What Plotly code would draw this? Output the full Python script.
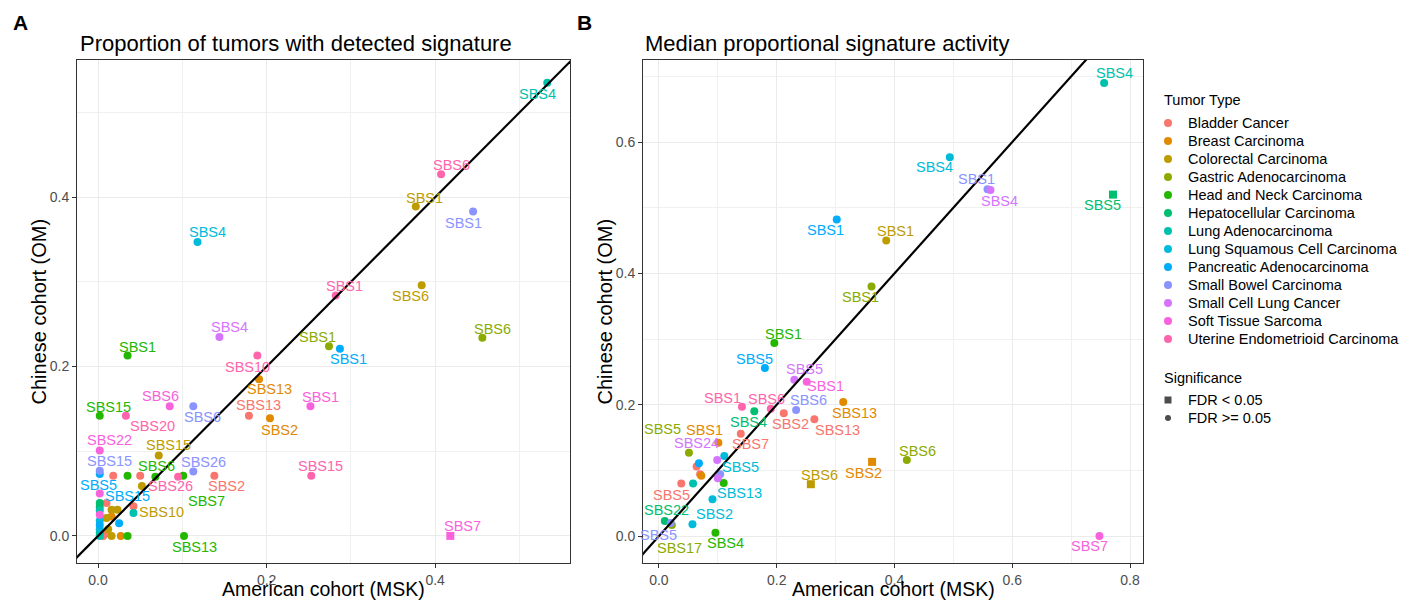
import plotly.graph_objects as go

# ---------------- data ----------------
TUMOR_KEYS = ["BL", "BR", "CO", "GA", "HN", "HC", "LA", "LS", "PA", "SB", "SC", "ST", "UT"]
TUMOR_NAMES = ["Bladder Cancer", "Breast Carcinoma", "Colorectal Carcinoma", "Gastric Adenocarcinoma",
               "Head and Neck Carcinoma", "Hepatocellular Carcinoma", "Lung Adenocarcinoma",
               "Lung Squamous Cell Carcinoma", "Pancreatic Adenocarcinoma", "Small Bowel Carcinoma",
               "Small Cell Lung Cancer", "Soft Tissue Sarcoma", "Uterine Endometrioid Carcinoma"]
TUMOR_COLORS = ["#F8766D", "#E18A00", "#BE9C00", "#8CAB00", "#24B700", "#00BE70", "#00C1AB",
                "#00BBDA", "#00ACFC", "#8B93FF", "#D575FE", "#F962DD", "#FF65AC"]
SIG_NAMES = ["FDR < 0.05", "FDR >= 0.05"]

# Panel A: proportion of tumors with detected signature
A_type = ["LA", "UT", "CO", "SB", "LS", "UT", "CO", "GA", "SC", "HN", "GA", "PA", "UT", "BR", "BL", "BR",
          "ST", "SB", "UT", "SB", "BL", "HN", "HN", "UT", "HN", "UT", "ST", "ST", "CO", "SB", "PA", "PA",
          "CO", "HN", "ST",
          "BL", "BL", "HN", "CO", "ST", "HC", "HC", "LA", "BL", "CO", "BL", "LA", "ST", "CO", "BR", "LS",
          "PA", "CO", "BL", "HC", "LA", "CO", "BR", "HN", "BL", "LS"]
A_label = ["SBS4", "SBS6", "SBS1", "SBS1", "SBS4", "SBS1", "SBS6", "SBS6", "SBS4", "SBS1", "SBS1", "SBS1",
           "SBS10", "SBS13", "SBS13", "SBS2", "SBS1", "SBS6", "SBS15", "SBS26", "SBS2", "SBS7", "SBS6",
           "SBS26", "SBS15", "SBS20", "SBS6", "SBS22", "SBS15", "SBS15", "SBS5", "SBS15", "SBS10", "SBS13",
           "SBS7"] + [""] * 26
A_msk = [0.533, 0.407, 0.377, 0.445, 0.118, 0.282, 0.384, 0.456, 0.144, 0.035, 0.274, 0.287, 0.189, 0.191,
         0.179, 0.204, 0.252, 0.113, 0.253, 0.113, 0.138, 0.101, 0.068, 0.095, 0.002, 0.033, 0.085, 0.002,
         0.072, 0.002, 0.002, 0.025, 0.023, 0.102, 0.418,
         0.018, 0.050, 0.035, 0.052, 0.002, 0.002, 0.002, 0.002, 0.010, 0.016, 0.042, 0.042, 0.002, 0.010,
         0.016, 0.002, 0.002, 0.012, 0.010, 0.002, 0.002, 0.016, 0.027, 0.035, 0.006, 0.002]
A_om = [0.535, 0.427, 0.389, 0.383, 0.347, 0.284, 0.296, 0.234, 0.235, 0.213, 0.224, 0.221, 0.213, 0.185,
        0.142, 0.139, 0.153, 0.153, 0.071, 0.076, 0.071, 0.071, 0.070, 0.070, 0.142, 0.142, 0.153, 0.101,
        0.095, 0.077, 0.073, 0.015, 0.031, 0.000, 0.000,
        0.071, 0.071, 0.071, 0.059, 0.050, 0.039, 0.034, 0.030, 0.039, 0.031, 0.035, 0.027, 0.025, 0.021,
        0.023, 0.018, 0.013, 0.008, 0.003, 0.004, 0.000, 0.000, 0.000, 0.000, 0.000, 0.008]
A_fdr = ["FDR >= 0.05"] * 34 + ["FDR < 0.05"] + ["FDR >= 0.05"] * 26

# Panel B: median proportional signature activity
B_type = ["LA", "HC", "LS", "SB", "SC", "PA", "CO", "GA", "HN", "PA", "SC", "ST", "UT", "HC", "UT", "BL",
          "SB", "BR", "BL", "BL", "BR", "LS", "SC", "GA", "CO", "BR", "GA", "ST", "LS", "LS", "BL", "HC",
          "SB", "GA", "HN",
          "PA", "BL", "BL", "BR", "LA", "SB", "SC", "HN"]
B_label = ["SBS4", "SBS5", "SBS4", "SBS1", "SBS4", "SBS1", "SBS1", "SBS1", "SBS1", "SBS5", "SBS5", "SBS1",
           "SBS1", "SBS4", "SBS6", "SBS2", "SBS6", "SBS13", "SBS13", "SBS7", "SBS1", "SBS5", "SBS24", "SBS5",
           "SBS6", "SBS2", "SBS6", "SBS7", "SBS13", "SBS2", "SBS5", "SBS22", "SBS5", "SBS17", "SBS4"] + [""] * 8
B_msk = [0.756, 0.771, 0.494, 0.558, 0.563, 0.302, 0.386, 0.361, 0.196, 0.180, 0.230, 0.251, 0.141, 0.162,
         0.190, 0.212, 0.233, 0.313, 0.264, 0.139, 0.101, 0.111, 0.099, 0.051, 0.258, 0.362, 0.421, 0.748,
         0.091, 0.057, 0.038, 0.010, 0.020, 0.022, 0.096,
         0.068, 0.064, 0.070, 0.072, 0.058, 0.104, 0.100, 0.110]
B_om = [0.690, 0.520, 0.577, 0.528, 0.527, 0.482, 0.450, 0.380, 0.294, 0.256, 0.238, 0.235, 0.197, 0.190,
        0.194, 0.187, 0.192, 0.204, 0.178, 0.156, 0.142, 0.122, 0.116, 0.127, 0.079, 0.113, 0.116, 0.000,
        0.056, 0.018, 0.080, 0.023, 0.020, 0.017, 0.005,
        0.111, 0.106, 0.094, 0.092, 0.080, 0.094, 0.088, 0.081]
B_fdr = ["FDR >= 0.05", "FDR < 0.05"] + ["FDR >= 0.05"] * 22 + ["FDR < 0.05", "FDR < 0.05"] + \
        ["FDR >= 0.05"] * 17

X_TITLE = "American cohort (MSK)"
Y_TITLE = "Chinese cohort (OM)"

# label placement (pixel offsets from the point, like ggrepel): (dx right, dy down)
A_label_off = [(-10, 11), (10, -9), (9, -9), (-10, 11), (10, -10), (9, -9), (-11, 11), (10, -9), (10, -10),
               (10, -9), (-11, -9), (9, 10), (-10, 11), (10, 10), (10, -11), (10, 12), (10, -9), (9, 11),
               (9, -10), (10, -10), (12, 10), (23, 25), (1, -11), (-8, 9), (9, -9), (27, 10), (-9, -10),
               (10, -10), (10, -10), (10, -10), (-1, 11), (8, -27), (44, 2), (10, 11), (12, -10)]
B_label_off = [(10, -10), (-10, 10), (-15, 10), (-11, -10), (9, 11), (-11, 10), (9, -10), (-11, 10), (9, -9),
               (-10, -9), (10, -11), (19, 4), (-19, -9), (-6, 11), (-4, -10), (7, 11), (12, -10), (11, 11),
               (23, 11), (10, 10), (-14, -13), (16, 11), (-21, -17), (-26, -24), (9, -9), (-9, 11), (11, -9),
               (-10, 10), (27, -6), (22, -10), (-10, 11), (2, -11), (-12, 12), (8, 23), (10, 10)]

# ---------------- figure ----------------
W, H = 1405, 600
COLOR = dict(zip(TUMOR_KEYS, TUMOR_COLORS))
SYMBOL = {"FDR < 0.05": "square", "FDR >= 0.05": "circle"}
FONT = "Liberation Sans, Arial, Helvetica, sans-serif"


def fx(px):
    return px / W


def fy(py):
    return 1 - py / H


fig = go.Figure()

panels = [
    dict(x="x", y="y", t=A_type, lab=A_label, mx=A_msk, oy=A_om, f=A_fdr, off=A_label_off,
         xr=[-0.025, 0.560], yr=[-0.032, 0.562], dom=[77, 570], ytx=38),
    dict(x="x2", y="y2", t=B_type, lab=B_label, mx=B_msk, oy=B_om, f=B_fdr, off=B_label_off,
         xr=[-0.027, 0.822], yr=[-0.041, 0.725], dom=[643, 1143], ytx=604),
]
PLOT_TOP, PLOT_BOTTOM = 60, 563

annotations = []
for p in panels:
    for k in TUMOR_KEYS:
        idx = [i for i, t in enumerate(p["t"]) if t == k]
        if not idx:
            continue
        fig.add_trace(go.Scatter(
            x=[p["mx"][i] for i in idx], y=[p["oy"][i] for i in idx],
            mode="markers", xaxis=p["x"], yaxis=p["y"], showlegend=False,
            marker=dict(color=COLOR[k], size=8,
                        symbol=[SYMBOL[p["f"][i]] for i in idx], line=dict(width=0)),
            text=[p["lab"][i] for i in idx], name=TUMOR_NAMES[TUMOR_KEYS.index(k)]))
    lo = min(p["xr"][0], p["yr"][0])
    hi = max(p["xr"][1], p["yr"][1])
    fig.add_trace(go.Scatter(x=[lo, hi], y=[lo, hi], mode="lines", xaxis=p["x"], yaxis=p["y"],
                             line=dict(color="black", width=2.2), showlegend=False, hoverinfo="skip"))
    for i, lab in enumerate(p["lab"]):
        if not lab:
            continue
        dx, dy = p["off"][i]
        annotations.append(dict(x=p["mx"][i], y=p["oy"][i], xref=p["x"], yref=p["y"], text=lab,
                                showarrow=False, xshift=dx, yshift=-dy,
                                font=dict(family=FONT, size=14.5, color=COLOR[p["t"][i]])))
    # axis titles
    annotations.append(dict(x=(p["dom"][0] + p["dom"][1]) / 2, y=589, xref="x3", yref="y3", text=X_TITLE,
                            xanchor="center", yanchor="middle", showarrow=False, borderpad=0,
                            font=dict(family=FONT, size=19.5, color="black")))
    annotations.append(dict(x=p["ytx"], y=(PLOT_TOP + PLOT_BOTTOM) / 2, xref="x3", yref="y3", text=Y_TITLE,
                            textangle=-90, xanchor="center", yanchor="middle", showarrow=False,
                            font=dict(family=FONT, size=20, color="black")))

# manual legend on an invisible axis mapped to window pixels
LEG_X, LEG_Y0, LEG_STEP = 1168, 123, 18
fig.add_trace(go.Scatter(
    x=[LEG_X] * len(TUMOR_KEYS), y=[LEG_Y0 + LEG_STEP * i for i in range(len(TUMOR_KEYS))],
    mode="markers", xaxis="x3", yaxis="y3", showlegend=False, hoverinfo="skip",
    marker=dict(color=TUMOR_COLORS, size=8, line=dict(width=0))))
for i, nm in enumerate(TUMOR_NAMES):
    annotations.append(dict(x=LEG_X + 18, y=LEG_Y0 + LEG_STEP * i, xref="x3", yref="y3", text=nm,
                            xanchor="left", yanchor="middle", showarrow=False,
                            font=dict(family=FONT, size=14.5, color="black")))
annotations.append(dict(x=LEG_X - 6, y=100, xref="x3", yref="y3", text="Tumor Type", xanchor="left",
                        yanchor="middle", showarrow=False, font=dict(family=FONT, size=14.5, color="black")))
SIG_Y0 = 400
fig.add_trace(go.Scatter(
    x=[LEG_X] * 2, y=[SIG_Y0, SIG_Y0 + LEG_STEP], mode="markers", xaxis="x3", yaxis="y3",
    showlegend=False, hoverinfo="skip",
    marker=dict(color="black", size=[7, 6], symbol=[SYMBOL[s] for s in SIG_NAMES], line=dict(width=0))))
for i, nm in enumerate(SIG_NAMES):
    annotations.append(dict(x=LEG_X + 18, y=SIG_Y0 + LEG_STEP * i, xref="x3", yref="y3", text=nm,
                            xanchor="left", yanchor="middle", showarrow=False,
                            font=dict(family=FONT, size=14.5, color="black")))
annotations.append(dict(x=LEG_X - 6, y=378, xref="x3", yref="y3", text="Significance", xanchor="left",
                        yanchor="middle", showarrow=False, font=dict(family=FONT, size=14.5, color="black")))

# panel tags and titles
for tag, tx, title, ttx in [("A", 11, "Proportion of tumors with detected signature", 78),
                            ("B", 575, "Median proportional signature activity", 643)]:
    annotations.append(dict(x=tx, y=22, xref="x3", yref="y3", text="<b>%s</b>" % tag, xanchor="left",
                            yanchor="middle", showarrow=False, font=dict(family=FONT, size=21, color="black")))
    annotations.append(dict(x=ttx, y=43, xref="x3", yref="y3", text=title, xanchor="left",
                            yanchor="middle", showarrow=False, font=dict(family=FONT, size=22, color="black")))


def axis_style(rng, dom, dt):
    return dict(range=rng, domain=dom, dtick=dt, tick0=0, tickformat=".1f", showgrid=True,
                gridcolor="#EBEBEB", gridwidth=1, zeroline=False, showline=True, linecolor="#333333",
                linewidth=1, mirror=True, ticks="outside", ticklen=4, tickcolor="#333333", tickwidth=1,
                tickfont=dict(family=FONT, size=14, color="#4D4D4D"),
                minor=dict(dtick=dt / 2, tick0=0, showgrid=True, gridcolor="#F0F0F0", gridwidth=0.6))


ydom = [fy(PLOT_BOTTOM), fy(PLOT_TOP)]
fig.update_layout(
    width=W, height=H, margin=dict(l=0, r=0, t=0, b=0, autoexpand=False), paper_bgcolor="white",
    plot_bgcolor="rgba(0,0,0,0)", showlegend=False,
    xaxis=dict(axis_style(panels[0]["xr"], [fx(77), fx(570)], 0.2), anchor="y"),
    yaxis=dict(axis_style(panels[0]["yr"], ydom, 0.2), anchor="x"),
    xaxis2=dict(axis_style(panels[1]["xr"], [fx(643), fx(1143)], 0.2), anchor="y2"),
    yaxis2=dict(axis_style(panels[1]["yr"], ydom, 0.2), anchor="x2"),
    xaxis3=dict(domain=[0, 1], range=[0, W], visible=False, anchor="y3", fixedrange=True),
    yaxis3=dict(domain=[0, 1], range=[H, 0], visible=False, anchor="x3", fixedrange=True),
    annotations=annotations,
    font=dict(family=FONT),
)

# remove the browser's default 8px body margin so the figure fills the window exactly
fig.write_html("out.html", config={"displayModeBar": False},
               post_script="document.body.style.margin='0';document.body.style.overflow='hidden';")
